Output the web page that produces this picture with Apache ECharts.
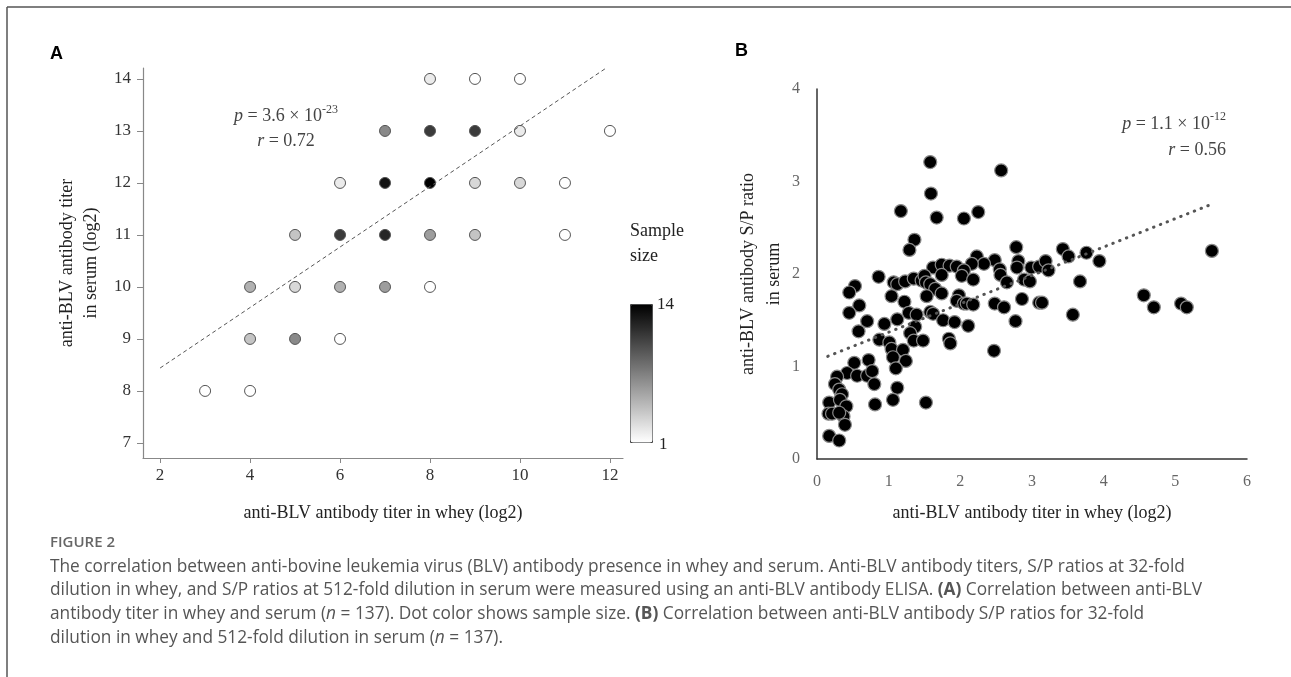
<!DOCTYPE html>
<html>
<head>
<meta charset="utf-8">
<script src="https://cdn.jsdelivr.net/npm/echarts@6/dist/echarts.min.js"></script>
<style>
  html, body { margin: 0; padding: 0; background: #fff; }
  #chart { width: 1291px; height: 677px; }
</style>
</head>
<body>
<div id="chart"></div>
<script>
// ---- panel A: titer in whey vs titer in serum (log2), dot colour = sample size
const wheyTiterA  = [8, 9, 10, 7, 8, 9, 10, 12, 6, 7, 8, 9, 10, 11, 5, 6, 7, 8, 9, 11, 4, 5, 6, 7, 8, 4, 5, 6, 3, 4];
const serumTiterA = [14, 14, 14, 13, 13, 13, 13, 13, 12, 12, 12, 12, 12, 12, 11, 11, 11, 11, 11, 11, 10, 10, 10, 10, 10, 9, 9, 9, 8, 8];
const sampleSize  = [2, 1, 1, 7, 11, 11, 2, 1, 2, 13, 14, 3, 3, 1, 4, 11, 12, 6, 4, 1, 5, 3, 5, 6, 1, 4, 7, 1, 1, 1];
const fitAx = [2, 11.9];
const fitAy = [8.44, 14.2];
const xTicksA = [2, 4, 6, 8, 10, 12];
const yTicksA = [7, 8, 9, 10, 11, 12, 13, 14];

// ---- panel B: S/P ratio in whey vs S/P ratio in serum
const wheySP = [
  1.58, 2.57, 1.59, 1.17, 1.67, 2.05, 2.25, 1.36, 1.29, 2.78, 2.23, 2.48, 2.81, 2.33, 2.16, 1.62, 1.74, 1.85, 1.95, 2.05,
  2.79, 2.99, 3.10, 3.19, 3.23, 2.55, 2.56, 2.65, 2.89, 2.97, 0.86, 1.07, 1.12, 1.23, 1.35, 1.46, 1.50, 1.52, 1.58, 1.65,
  1.74, 2.02, 2.18, 0.53, 0.45, 1.04, 1.53, 1.74, 1.98, 1.22, 0.59, 1.95, 2.05, 2.09, 2.18, 2.48, 2.61, 2.86, 3.10, 3.14,
  0.45, 1.28, 1.39, 1.58, 1.62, 1.12, 0.70, 0.94, 1.76, 1.92, 2.11, 2.77, 0.58, 1.37, 1.30, 0.87, 1.01, 1.35, 1.48, 1.84,
  1.86, 1.04, 1.20, 2.47, 1.06, 1.24, 0.52, 0.72, 0.42, 0.56, 0.70, 0.77, 0.28, 1.10, 0.25, 0.80, 0.31, 1.12, 0.35, 0.17,
  0.32, 0.41, 0.81, 1.06, 1.52, 0.37, 0.16, 0.21, 0.31, 0.39, 0.17, 0.31, 3.43, 5.51, 4.56, 4.70, 5.08, 5.16, 3.94, 3.67,
  3.57, 3.51, 3.76
];
const serumSP = [
  3.21, 3.12, 2.87, 2.68, 2.61, 2.60, 2.67, 2.37, 2.26, 2.29, 2.19, 2.15, 2.14, 2.11, 2.11, 2.07, 2.10, 2.09, 2.08, 2.04,
  2.07, 2.07, 2.08, 2.14, 2.04, 2.05, 1.99, 1.91, 1.94, 1.92, 1.97, 1.91, 1.89, 1.92, 1.95, 1.93, 1.98, 1.91, 1.89, 1.84,
  1.99, 1.98, 1.94, 1.87, 1.80, 1.76, 1.76, 1.79, 1.77, 1.70, 1.66, 1.71, 1.68, 1.68, 1.67, 1.68, 1.64, 1.73, 1.69, 1.69,
  1.58, 1.58, 1.56, 1.59, 1.57, 1.51, 1.49, 1.46, 1.50, 1.48, 1.44, 1.49, 1.38, 1.43, 1.36, 1.29, 1.26, 1.28, 1.28, 1.30,
  1.25, 1.19, 1.18, 1.17, 1.10, 1.06, 1.04, 1.07, 0.93, 0.90, 0.90, 0.95, 0.89, 0.98, 0.81, 0.81, 0.75, 0.77, 0.70, 0.61,
  0.64, 0.57, 0.59, 0.64, 0.61, 0.46, 0.49, 0.49, 0.50, 0.37, 0.25, 0.20, 2.27, 2.25, 1.77, 1.64, 1.68, 1.64, 2.14, 1.92,
  1.56, 2.19, 2.23
];
const fitBx = [0.15, 5.46];
const fitBy = [1.11, 2.74];
const xTicksB = [0, 1, 2, 3, 4, 5, 6];
const yTicksB = [0, 1, 2, 3, 4];

const serif = '"Liberation Serif", "DejaVu Serif", serif';
const sans = '"Open Sans", "Noto Sans", sans-serif';

const chartDom = document.getElementById('chart');
const myChart = echarts.init(chartDom, null, { renderer: 'canvas' });

const pointsA = wheyTiterA.map((x, i) => [x, serumTiterA[i], sampleSize[i]]);
const pointsB = wheySP.map((x, i) => [x, serumSP[i]]);
const sizeMin = 1;
const sizeMax = 14;

myChart.setOption({
  animation: false,
  backgroundColor: '#fff',
  grid: [
    { left: 143, top: 68, width: 480, height: 390 },
    { left: 817, top: 89, width: 430, height: 370 }
  ],
  xAxis: [
    {
      gridIndex: 0, type: 'value', min: 1.62, max: 12.29,
      splitLine: { show: false },
      axisLine: { lineStyle: { color: '#888', width: 1.2 } },
      axisTick: { show: true, length: 5, customValues: xTicksA, lineStyle: { color: '#888' } },
      axisLabel: { customValues: xTicksA, color: '#333', fontFamily: serif, fontSize: 17, margin: 9 },
      name: 'anti-BLV antibody titer in whey (log2)', nameLocation: 'middle', nameGap: 46,
      nameTextStyle: { color: '#222', fontFamily: serif, fontSize: 18 }
    },
    {
      gridIndex: 1, type: 'value', min: 0, max: 6, interval: 1,
      splitLine: { show: false },
      axisLine: { lineStyle: { color: '#333', width: 1.5 } },
      axisTick: { show: false },
      axisLabel: { customValues: xTicksB, color: '#666', fontFamily: serif, fontSize: 16, margin: 15 },
      name: 'anti-BLV antibody titer in whey (log2)', nameLocation: 'middle', nameGap: 45,
      nameTextStyle: { color: '#222', fontFamily: serif, fontSize: 18 }
    }
  ],
  yAxis: [
    {
      gridIndex: 0, type: 'value', min: 6.71, max: 14.21,
      splitLine: { show: false },
      axisLine: { lineStyle: { color: '#888', width: 1.2 } },
      axisTick: { show: true, length: 6, customValues: yTicksA, lineStyle: { color: '#888' } },
      axisLabel: { customValues: yTicksA, color: '#333', fontFamily: serif, fontSize: 17, margin: 12 },
      name: 'anti-BLV antibody titer\nin serum (log2)', nameLocation: 'middle', nameGap: 40,
      nameTextStyle: { color: '#222', fontFamily: serif, fontSize: 18, lineHeight: 24 }
    },
    {
      gridIndex: 1, type: 'value', min: 0, max: 4, interval: 1,
      splitLine: { show: false },
      axisLine: { lineStyle: { color: '#333', width: 1.5 } },
      axisTick: { show: false },
      axisLabel: { customValues: yTicksB, color: '#666', fontFamily: serif, fontSize: 16, margin: 17 },
      name: 'anti-BLV antibody S/P ratio\nin serum', nameLocation: 'middle', nameGap: 30,
      nameTextStyle: { color: '#222', fontFamily: serif, fontSize: 18, lineHeight: 26 }
    }
  ],
  visualMap: {
    type: 'continuous', seriesIndex: 0, dimension: 2,
    min: sizeMin, max: sizeMax, calculable: false, hoverLink: false,
    inRange: { color: ['#ffffff', '#000000'] },
    left: 630, top: 304, itemWidth: 22, itemHeight: 138,
    padding: 0, borderColor: '#444', borderWidth: 1,
    text: null
  },
  series: [
    {
      type: 'scatter', xAxisIndex: 0, yAxisIndex: 0, data: pointsA,
      symbolSize: 11, z: 3,
      itemStyle: { borderColor: '#555', borderWidth: 1, opacity: 1 }
    },
    {
      type: 'line', xAxisIndex: 0, yAxisIndex: 0,
      data: fitAx.map((x, i) => [x, fitAy[i]]),
      symbol: 'none', silent: true, z: 4,
      lineStyle: { color: '#555', width: 1, type: [4, 3] }
    },
    {
      type: 'scatter', xAxisIndex: 1, yAxisIndex: 1, data: pointsB,
      symbolSize: 13, z: 3,
      itemStyle: { color: '#000', borderColor: '#8a8a8a', borderWidth: 1.2, opacity: 1 }
    },
    {
      type: 'line', xAxisIndex: 1, yAxisIndex: 1,
      data: fitBx.map((x, i) => [x, fitBy[i]]),
      symbol: 'none', silent: true, z: 4,
      lineStyle: { color: '#555', width: 3, type: [0.5, 6.8], cap: 'round' }
    }
  ],
  graphic: [
    { type: 'line', shape: { x1: 7, y1: 7, x2: 1291, y2: 7 }, style: { stroke: '#555', lineWidth: 1.5 } },
    { type: 'line', shape: { x1: 7, y1: 7, x2: 7, y2: 677 }, style: { stroke: '#555', lineWidth: 1.5 } },
    { type: 'text', left: 50, top: 45, style: { text: 'A', font: 'bold 18px "Liberation Sans", Arial, sans-serif', fill: '#000' } },
    { type: 'text', left: 735, top: 42, style: { text: 'B', font: 'bold 18px "Liberation Sans", Arial, sans-serif', fill: '#000' } },
    {
      type: 'text', x: 286, y: 104,
      style: {
        text: '{i|p} = 3.6 × 10{s|-23}\n{i|r} = 0.72', align: 'center',
        font: '18px ' + serif, fill: '#444', lineHeight: 25,
        rich: {
          i: { fontStyle: 'italic', fontFamily: serif, fontSize: 18, fill: '#444' },
          s: { fontSize: 12, fontFamily: serif, verticalAlign: 'top', lineHeight: 18, fill: '#444' }
        }
      }
    },
    {
      type: 'text', x: 1226, y: 111,
      style: {
        text: '{i|p} = 1.1 × 10{s|-12}\n{i|r} = 0.56', align: 'right',
        font: '18px ' + serif, fill: '#444', lineHeight: 26,
        rich: {
          i: { fontStyle: 'italic', fontFamily: serif, fontSize: 18, fill: '#444' },
          s: { fontSize: 12, fontFamily: serif, verticalAlign: 'top', lineHeight: 18, fill: '#444' }
        }
      }
    },
    { type: 'text', left: 630, top: 219, style: { text: 'Sample\nsize', font: '18px ' + serif, fill: '#222', lineHeight: 25 } },
    { type: 'text', left: 657, top: 296, style: { text: String(sizeMax), font: '17px ' + serif, fill: '#222' } },
    { type: 'text', left: 659, top: 436, style: { text: String(sizeMin), font: '17px ' + serif, fill: '#222' } },
    { type: 'text', left: 50, top: 535, style: { text: 'FIGURE 2', font: '600 15px ' + sans, fill: '#666' } },
    {
      type: 'text', left: 50, top: 555,
      style: {
        text: 'The correlation between anti-bovine leukemia virus (BLV) antibody presence in whey and serum. Anti-BLV antibody titers, S/P ratios at 32-fold\n' +
              'dilution in whey, and S/P ratios at 512-fold dilution in serum were measured using an anti-BLV antibody ELISA. {b|(A)} Correlation between anti-BLV\n' +
              'antibody titer in whey and serum ({i|n} = 137). Dot color shows sample size. {b|(B)} Correlation between anti-BLV antibody S/P ratios for 32-fold\n' +
              'dilution in whey and 512-fold dilution in serum ({i|n} = 137).',
        font: '17.3px ' + sans, fill: '#555', lineHeight: 23.7,
        rich: {
          b: { fontWeight: 'bold', fontFamily: sans, fontSize: 17.3, fill: '#555' },
          i: { fontStyle: 'italic', fontFamily: sans, fontSize: 17.3, fill: '#555' }
        }
      }
    }
  ]
});
</script>
</body>
</html>
